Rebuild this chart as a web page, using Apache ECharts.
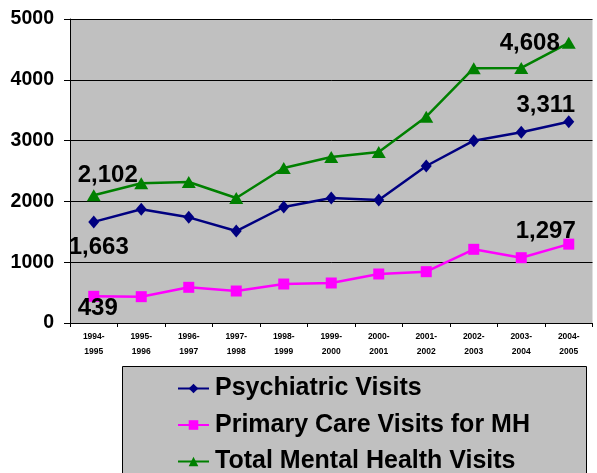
<!DOCTYPE html>
<html>
<head>
<meta charset="utf-8">
<script src="https://cdn.jsdelivr.net/npm/echarts@6/dist/echarts.min.js"></script>
<style>
html,body{margin:0;padding:0;background:#fff;}
#main{width:597px;height:473px;}
</style>
</head>
<body>
<div id="main"></div>
<script>
// data
var years = ['1994-\n1995','1995-\n1996','1996-\n1997','1997-\n1998','1998-\n1999','1999-\n2000','2000-\n2001','2001-\n2002','2002-\n2003','2003-\n2004','2004-\n2005']
var psych = [1663,1870,1738,1513,1908,2056,2023,2582,2998,3136,3311]
var primary = [439,433,587,526,641,658,806,844,1212,1074,1297]
var total = [2102,2298,2319,2056,2549,2730,2812,3393,4190,4195,4608]
var yTicks = [0,1000,2000,3000,4000,5000]

var lbl = {show:true,color:'#000',fontFamily:'Arial',fontWeight:'bold',fontSize:24,
	formatter:function(p){return p.value.toLocaleString('en-US')}}

// only the first and last point carry a value label
function mk(arr,first,last){
	return arr.map(function(v,i){
		if(i==0) return {value:v,label:Object.assign({},lbl,first)}
		if(i==arr.length-1) return {value:v,label:Object.assign({},lbl,last)}
		return v
	})
}

var myChart = echarts.init(document.getElementById('main'))
myChart.setOption({
	animation:false,
	backgroundColor:'#fff',
	grid:{left:70,top:19,right:4.5,bottom:150,show:true,backgroundColor:'#C0C0C0',borderWidth:0},
	graphic:[{
		type:'rect',
		shape:{x:122.5,y:366.5,width:464,height:120},
		style:{fill:'#C0C0C0',stroke:'#000',lineWidth:1},
		z:-1
	}],
	legend:{
		orient:'vertical',left:177,top:376,height:300,padding:0,
		itemWidth:31,itemHeight:12,itemGap:11.5,
		textStyle:{fontFamily:'Arial',fontWeight:'bold',fontSize:25,color:'#000',lineHeight:24,padding:[0,0,0,1]},
		data:['Psychiatric Visits','Primary Care Visits for MH','Total Mental Health Visits']
	},
	xAxis:{
		type:'category',data:years,boundaryGap:true,
		axisLine:{lineStyle:{color:'#000',width:1}},
		axisTick:{show:true,length:4,lineStyle:{color:'#000'}},
		axisLabel:{color:'#000',fontFamily:'Arial',fontWeight:'bold',fontSize:8.5,lineHeight:15,margin:6,interval:0}
	},
	yAxis:{
		type:'value',min:yTicks[0],max:yTicks[yTicks.length-1],interval:1000,
		axisLine:{show:true,lineStyle:{color:'#000',width:1}},
		axisTick:{show:true,length:6,lineStyle:{color:'#000'}},
		splitLine:{show:true,lineStyle:{color:'#000',width:1}},
		axisLabel:{color:'#000',fontFamily:'Arial',fontWeight:'bold',fontSize:19.5,margin:16,
			formatter:function(v){return String(v)}}
	},
	series:[{
		name:'Psychiatric Visits',type:'line',
		data:mk(psych,{position:'bottom',offset:[5,2]},{position:'top',offset:[-23,7]}),
		symbol:'diamond',symbolSize:[11,13],
		lineStyle:{color:'#000080',width:2.5},
		itemStyle:{color:'#000080'},
		z:3
	},{
		name:'Primary Care Visits for MH',type:'line',
		data:mk(primary,{position:'bottom',offset:[4,-10]},{position:'top',offset:[-23,10]}),
		symbol:'rect',symbolSize:11,
		lineStyle:{color:'#FF00FF',width:2.5},
		itemStyle:{color:'#FF00FF'},
		z:2
	},{
		name:'Total Mental Health Visits',type:'line',
		data:mk(total,{position:'top',offset:[14,3]},{position:'left',offset:[3,1]}),
		symbol:'triangle',symbolSize:[14,12],
		lineStyle:{color:'#008000',width:2.5},
		itemStyle:{color:'#008000'},
		z:4
	}]
})
</script>
</body>
</html>
